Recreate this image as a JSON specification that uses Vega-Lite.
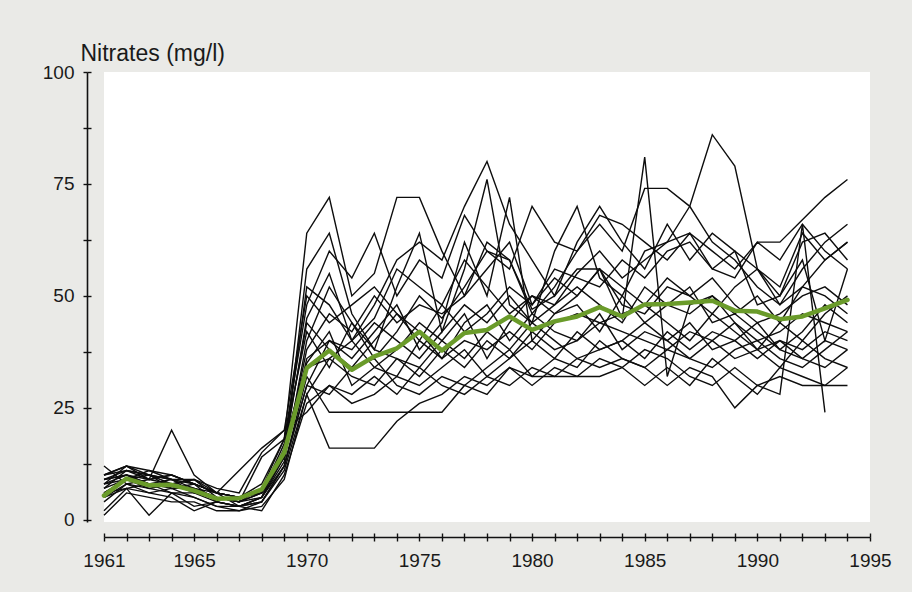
{
"$schema": "https://vega.github.io/schema/vega-lite/v6.json",
"width": 766, "height": 450,
"autosize": {"type": "none"},
"padding": {"left": 104, "top": 72, "right": 42, "bottom": 70},
"background": "#eaeae7",
"config": {"view": {"fill": "white", "stroke": null}, "font": "Liberation Sans"},
"datasets": {
"series": [
{"s":1,"x":1961,"v":10},{"s":1,"x":1962,"v":12},{"s":1,"x":1963,"v":9},{"s":1,"x":1964,"v":10},{"s":1,"x":1965,"v":8},{"s":1,"x":1966,"v":6},{"s":1,"x":1967,"v":5},{"s":1,"x":1968,"v":7},{"s":1,"x":1969,"v":18},{"s":1,"x":1970,"v":64},{"s":1,"x":1971,"v":72},{"s":1,"x":1972,"v":50},{"s":1,"x":1973,"v":55},{"s":1,"x":1974,"v":72},{"s":1,"x":1975,"v":72},{"s":1,"x":1976,"v":60},{"s":1,"x":1977,"v":50},{"s":1,"x":1978,"v":62},{"s":1,"x":1979,"v":58},{"s":1,"x":1980,"v":46},{"s":1,"x":1981,"v":52},{"s":1,"x":1982,"v":60},{"s":1,"x":1983,"v":66},{"s":1,"x":1984,"v":60},{"s":1,"x":1985,"v":74},{"s":1,"x":1986,"v":74},{"s":1,"x":1987,"v":70},{"s":1,"x":1988,"v":62},{"s":1,"x":1989,"v":58},{"s":1,"x":1990,"v":52},{"s":1,"x":1991,"v":48},{"s":1,"x":1992,"v":56},{"s":1,"x":1993,"v":62},{"s":1,"x":1994,"v":66},
{"s":2,"x":1961,"v":9},{"s":2,"x":1962,"v":10},{"s":2,"x":1963,"v":8},{"s":2,"x":1964,"v":9},{"s":2,"x":1965,"v":7},{"s":2,"x":1966,"v":5},{"s":2,"x":1967,"v":4},{"s":2,"x":1968,"v":6},{"s":2,"x":1969,"v":15},{"s":2,"x":1970,"v":45},{"s":2,"x":1971,"v":55},{"s":2,"x":1972,"v":40},{"s":2,"x":1973,"v":48},{"s":2,"x":1974,"v":58},{"s":2,"x":1975,"v":62},{"s":2,"x":1976,"v":58},{"s":2,"x":1977,"v":70},{"s":2,"x":1978,"v":80},{"s":2,"x":1979,"v":66},{"s":2,"x":1980,"v":58},{"s":2,"x":1981,"v":50},{"s":2,"x":1982,"v":62},{"s":2,"x":1983,"v":70},{"s":2,"x":1984,"v":62},{"s":2,"x":1985,"v":56},{"s":2,"x":1986,"v":66},{"s":2,"x":1987,"v":58},{"s":2,"x":1988,"v":64},{"s":2,"x":1989,"v":60},{"s":2,"x":1990,"v":56},{"s":2,"x":1991,"v":52},{"s":2,"x":1992,"v":64},{"s":2,"x":1993,"v":58},{"s":2,"x":1994,"v":62},
{"s":3,"x":1961,"v":7},{"s":3,"x":1962,"v":11},{"s":3,"x":1963,"v":10},{"s":3,"x":1964,"v":8},{"s":3,"x":1965,"v":9},{"s":3,"x":1966,"v":6},{"s":3,"x":1967,"v":3},{"s":3,"x":1968,"v":5},{"s":3,"x":1969,"v":14},{"s":3,"x":1970,"v":56},{"s":3,"x":1971,"v":64},{"s":3,"x":1972,"v":46},{"s":3,"x":1973,"v":38},{"s":3,"x":1974,"v":52},{"s":3,"x":1975,"v":64},{"s":3,"x":1976,"v":42},{"s":3,"x":1977,"v":56},{"s":3,"x":1978,"v":76},{"s":3,"x":1979,"v":48},{"s":3,"x":1980,"v":44},{"s":3,"x":1981,"v":60},{"s":3,"x":1982,"v":70},{"s":3,"x":1983,"v":54},{"s":3,"x":1984,"v":50},{"s":3,"x":1985,"v":60},{"s":3,"x":1986,"v":62},{"s":3,"x":1987,"v":64},{"s":3,"x":1988,"v":56},{"s":3,"x":1989,"v":60},{"s":3,"x":1990,"v":48},{"s":3,"x":1991,"v":50},{"s":3,"x":1992,"v":58},{"s":3,"x":1993,"v":40},{"s":3,"x":1994,"v":56},
{"s":4,"x":1961,"v":6},{"s":4,"x":1962,"v":9},{"s":4,"x":1963,"v":10},{"s":4,"x":1964,"v":7},{"s":4,"x":1965,"v":8},{"s":4,"x":1966,"v":4},{"s":4,"x":1967,"v":3},{"s":4,"x":1968,"v":5},{"s":4,"x":1969,"v":13},{"s":4,"x":1970,"v":40},{"s":4,"x":1971,"v":52},{"s":4,"x":1972,"v":44},{"s":4,"x":1973,"v":36},{"s":4,"x":1974,"v":42},{"s":4,"x":1975,"v":50},{"s":4,"x":1976,"v":45},{"s":4,"x":1977,"v":52},{"s":4,"x":1978,"v":60},{"s":4,"x":1979,"v":58},{"s":4,"x":1980,"v":47},{"s":4,"x":1981,"v":50},{"s":4,"x":1982,"v":56},{"s":4,"x":1983,"v":56},{"s":4,"x":1984,"v":45},{"s":4,"x":1985,"v":81},{"s":4,"x":1986,"v":32},{"s":4,"x":1987,"v":48},{"s":4,"x":1988,"v":50},{"s":4,"x":1989,"v":46},{"s":4,"x":1990,"v":50},{"s":4,"x":1991,"v":44},{"s":4,"x":1992,"v":52},{"s":4,"x":1993,"v":58},{"s":4,"x":1994,"v":62},
{"s":5,"x":1961,"v":8},{"s":5,"x":1962,"v":12},{"s":5,"x":1963,"v":10},{"s":5,"x":1964,"v":9},{"s":5,"x":1965,"v":6},{"s":5,"x":1966,"v":5},{"s":5,"x":1967,"v":4},{"s":5,"x":1968,"v":7},{"s":5,"x":1969,"v":15},{"s":5,"x":1970,"v":52},{"s":5,"x":1971,"v":48},{"s":5,"x":1972,"v":40},{"s":5,"x":1973,"v":45},{"s":5,"x":1974,"v":56},{"s":5,"x":1975,"v":52},{"s":5,"x":1976,"v":48},{"s":5,"x":1977,"v":58},{"s":5,"x":1978,"v":52},{"s":5,"x":1979,"v":46},{"s":5,"x":1980,"v":50},{"s":5,"x":1981,"v":48},{"s":5,"x":1982,"v":55},{"s":5,"x":1983,"v":60},{"s":5,"x":1984,"v":54},{"s":5,"x":1985,"v":58},{"s":5,"x":1986,"v":62},{"s":5,"x":1987,"v":70},{"s":5,"x":1988,"v":86},{"s":5,"x":1989,"v":79},{"s":5,"x":1990,"v":56},{"s":5,"x":1991,"v":50},{"s":5,"x":1992,"v":62},{"s":5,"x":1993,"v":64},{"s":5,"x":1994,"v":58},
{"s":6,"x":1961,"v":10},{"s":6,"x":1962,"v":11},{"s":6,"x":1963,"v":9},{"s":6,"x":1964,"v":10},{"s":6,"x":1965,"v":8},{"s":6,"x":1966,"v":6},{"s":6,"x":1967,"v":5},{"s":6,"x":1968,"v":6},{"s":6,"x":1969,"v":14},{"s":6,"x":1970,"v":38},{"s":6,"x":1971,"v":46},{"s":6,"x":1972,"v":42},{"s":6,"x":1973,"v":50},{"s":6,"x":1974,"v":44},{"s":6,"x":1975,"v":48},{"s":6,"x":1976,"v":46},{"s":6,"x":1977,"v":50},{"s":6,"x":1978,"v":56},{"s":6,"x":1979,"v":62},{"s":6,"x":1980,"v":48},{"s":6,"x":1981,"v":56},{"s":6,"x":1982,"v":54},{"s":6,"x":1983,"v":52},{"s":6,"x":1984,"v":58},{"s":6,"x":1985,"v":54},{"s":6,"x":1986,"v":60},{"s":6,"x":1987,"v":62},{"s":6,"x":1988,"v":56},{"s":6,"x":1989,"v":54},{"s":6,"x":1990,"v":62},{"s":6,"x":1991,"v":62},{"s":6,"x":1992,"v":67},{"s":6,"x":1993,"v":72},{"s":6,"x":1994,"v":76},
{"s":7,"x":1961,"v":5},{"s":7,"x":1962,"v":8},{"s":7,"x":1963,"v":7},{"s":7,"x":1964,"v":6},{"s":7,"x":1965,"v":6},{"s":7,"x":1966,"v":4},{"s":7,"x":1967,"v":3},{"s":7,"x":1968,"v":4},{"s":7,"x":1969,"v":12},{"s":7,"x":1970,"v":30},{"s":7,"x":1971,"v":40},{"s":7,"x":1972,"v":36},{"s":7,"x":1973,"v":42},{"s":7,"x":1974,"v":48},{"s":7,"x":1975,"v":38},{"s":7,"x":1976,"v":44},{"s":7,"x":1977,"v":62},{"s":7,"x":1978,"v":50},{"s":7,"x":1979,"v":72},{"s":7,"x":1980,"v":40},{"s":7,"x":1981,"v":46},{"s":7,"x":1982,"v":50},{"s":7,"x":1983,"v":56},{"s":7,"x":1984,"v":48},{"s":7,"x":1985,"v":46},{"s":7,"x":1986,"v":52},{"s":7,"x":1987,"v":50},{"s":7,"x":1988,"v":54},{"s":7,"x":1989,"v":48},{"s":7,"x":1990,"v":44},{"s":7,"x":1991,"v":46},{"s":7,"x":1992,"v":50},{"s":7,"x":1993,"v":52},{"s":7,"x":1994,"v":48},
{"s":8,"x":1961,"v":9},{"s":8,"x":1962,"v":10},{"s":8,"x":1963,"v":8},{"s":8,"x":1964,"v":7},{"s":8,"x":1965,"v":7},{"s":8,"x":1966,"v":5},{"s":8,"x":1967,"v":4},{"s":8,"x":1968,"v":5},{"s":8,"x":1969,"v":16},{"s":8,"x":1970,"v":44},{"s":8,"x":1971,"v":38},{"s":8,"x":1972,"v":34},{"s":8,"x":1973,"v":40},{"s":8,"x":1974,"v":46},{"s":8,"x":1975,"v":42},{"s":8,"x":1976,"v":36},{"s":8,"x":1977,"v":44},{"s":8,"x":1978,"v":48},{"s":8,"x":1979,"v":40},{"s":8,"x":1980,"v":46},{"s":8,"x":1981,"v":42},{"s":8,"x":1982,"v":40},{"s":8,"x":1983,"v":44},{"s":8,"x":1984,"v":46},{"s":8,"x":1985,"v":48},{"s":8,"x":1986,"v":44},{"s":8,"x":1987,"v":40},{"s":8,"x":1988,"v":46},{"s":8,"x":1989,"v":42},{"s":8,"x":1990,"v":38},{"s":8,"x":1991,"v":44},{"s":8,"x":1992,"v":40},{"s":8,"x":1993,"v":46},{"s":8,"x":1994,"v":50},
{"s":9,"x":1961,"v":7},{"s":9,"x":1962,"v":9},{"s":9,"x":1963,"v":11},{"s":9,"x":1964,"v":10},{"s":9,"x":1965,"v":8},{"s":9,"x":1966,"v":6},{"s":9,"x":1967,"v":5},{"s":9,"x":1968,"v":6},{"s":9,"x":1969,"v":17},{"s":9,"x":1970,"v":35},{"s":9,"x":1971,"v":42},{"s":9,"x":1972,"v":30},{"s":9,"x":1973,"v":34},{"s":9,"x":1974,"v":38},{"s":9,"x":1975,"v":44},{"s":9,"x":1976,"v":40},{"s":9,"x":1977,"v":46},{"s":9,"x":1978,"v":36},{"s":9,"x":1979,"v":44},{"s":9,"x":1980,"v":50},{"s":9,"x":1981,"v":46},{"s":9,"x":1982,"v":48},{"s":9,"x":1983,"v":42},{"s":9,"x":1984,"v":50},{"s":9,"x":1985,"v":44},{"s":9,"x":1986,"v":48},{"s":9,"x":1987,"v":52},{"s":9,"x":1988,"v":44},{"s":9,"x":1989,"v":46},{"s":9,"x":1990,"v":42},{"s":9,"x":1991,"v":38},{"s":9,"x":1992,"v":42},{"s":9,"x":1993,"v":48},{"s":9,"x":1994,"v":44},
{"s":10,"x":1961,"v":4},{"s":10,"x":1962,"v":8},{"s":10,"x":1963,"v":6},{"s":10,"x":1964,"v":7},{"s":10,"x":1965,"v":5},{"s":10,"x":1966,"v":3},{"s":10,"x":1967,"v":2},{"s":10,"x":1968,"v":4},{"s":10,"x":1969,"v":11},{"s":10,"x":1970,"v":28},{"s":10,"x":1971,"v":36},{"s":10,"x":1972,"v":32},{"s":10,"x":1973,"v":30},{"s":10,"x":1974,"v":36},{"s":10,"x":1975,"v":32},{"s":10,"x":1976,"v":38},{"s":10,"x":1977,"v":34},{"s":10,"x":1978,"v":40},{"s":10,"x":1979,"v":36},{"s":10,"x":1980,"v":42},{"s":10,"x":1981,"v":38},{"s":10,"x":1982,"v":40},{"s":10,"x":1983,"v":46},{"s":10,"x":1984,"v":38},{"s":10,"x":1985,"v":42},{"s":10,"x":1986,"v":40},{"s":10,"x":1987,"v":44},{"s":10,"x":1988,"v":38},{"s":10,"x":1989,"v":40},{"s":10,"x":1990,"v":36},{"s":10,"x":1991,"v":40},{"s":10,"x":1992,"v":38},{"s":10,"x":1993,"v":42},{"s":10,"x":1994,"v":40},
{"s":11,"x":1961,"v":1},{"s":11,"x":1962,"v":6},{"s":11,"x":1963,"v":5},{"s":11,"x":1964,"v":4},{"s":11,"x":1965,"v":4},{"s":11,"x":1966,"v":2},{"s":11,"x":1967,"v":2},{"s":11,"x":1968,"v":3},{"s":11,"x":1969,"v":9},{"s":11,"x":1970,"v":28},{"s":11,"x":1971,"v":16},{"s":11,"x":1972,"v":16},{"s":11,"x":1973,"v":16},{"s":11,"x":1974,"v":22},{"s":11,"x":1975,"v":26},{"s":11,"x":1976,"v":28},{"s":11,"x":1977,"v":32},{"s":11,"x":1978,"v":30},{"s":11,"x":1979,"v":34},{"s":11,"x":1980,"v":32},{"s":11,"x":1981,"v":36},{"s":11,"x":1982,"v":34},{"s":11,"x":1983,"v":40},{"s":11,"x":1984,"v":36},{"s":11,"x":1985,"v":34},{"s":11,"x":1986,"v":38},{"s":11,"x":1987,"v":36},{"s":11,"x":1988,"v":34},{"s":11,"x":1989,"v":38},{"s":11,"x":1990,"v":40},{"s":11,"x":1991,"v":36},{"s":11,"x":1992,"v":34},{"s":11,"x":1993,"v":38},{"s":11,"x":1994,"v":42},
{"s":12,"x":1961,"v":6},{"s":12,"x":1962,"v":7},{"s":12,"x":1963,"v":8},{"s":12,"x":1964,"v":6},{"s":12,"x":1965,"v":5},{"s":12,"x":1966,"v":3},{"s":12,"x":1967,"v":3},{"s":12,"x":1968,"v":4},{"s":12,"x":1969,"v":12},{"s":12,"x":1970,"v":32},{"s":12,"x":1971,"v":24},{"s":12,"x":1972,"v":24},{"s":12,"x":1973,"v":24},{"s":12,"x":1974,"v":24},{"s":12,"x":1975,"v":24},{"s":12,"x":1976,"v":24},{"s":12,"x":1977,"v":30},{"s":12,"x":1978,"v":28},{"s":12,"x":1979,"v":34},{"s":12,"x":1980,"v":30},{"s":12,"x":1981,"v":34},{"s":12,"x":1982,"v":32},{"s":12,"x":1983,"v":36},{"s":12,"x":1984,"v":34},{"s":12,"x":1985,"v":38},{"s":12,"x":1986,"v":36},{"s":12,"x":1987,"v":32},{"s":12,"x":1988,"v":30},{"s":12,"x":1989,"v":34},{"s":12,"x":1990,"v":30},{"s":12,"x":1991,"v":32},{"s":12,"x":1992,"v":30},{"s":12,"x":1993,"v":30},{"s":12,"x":1994,"v":30},
{"s":13,"x":1961,"v":2},{"s":13,"x":1962,"v":7},{"s":13,"x":1963,"v":1},{"s":13,"x":1964,"v":6},{"s":13,"x":1965,"v":3},{"s":13,"x":1966,"v":4},{"s":13,"x":1967,"v":3},{"s":13,"x":1968,"v":5},{"s":13,"x":1969,"v":12},{"s":13,"x":1970,"v":30},{"s":13,"x":1971,"v":28},{"s":13,"x":1972,"v":34},{"s":13,"x":1973,"v":36},{"s":13,"x":1974,"v":30},{"s":13,"x":1975,"v":28},{"s":13,"x":1976,"v":32},{"s":13,"x":1977,"v":30},{"s":13,"x":1978,"v":34},{"s":13,"x":1979,"v":38},{"s":13,"x":1980,"v":32},{"s":13,"x":1981,"v":32},{"s":13,"x":1982,"v":32},{"s":13,"x":1983,"v":32},{"s":13,"x":1984,"v":34},{"s":13,"x":1985,"v":30},{"s":13,"x":1986,"v":34},{"s":13,"x":1987,"v":30},{"s":13,"x":1988,"v":36},{"s":13,"x":1989,"v":32},{"s":13,"x":1990,"v":28},{"s":13,"x":1991,"v":34},{"s":13,"x":1992,"v":32},{"s":13,"x":1993,"v":30},{"s":13,"x":1994,"v":34},
{"s":14,"x":1961,"v":8},{"s":14,"x":1962,"v":10},{"s":14,"x":1963,"v":9},{"s":14,"x":1964,"v":20},{"s":14,"x":1965,"v":10},{"s":14,"x":1966,"v":6},{"s":14,"x":1967,"v":5},{"s":14,"x":1968,"v":6},{"s":14,"x":1969,"v":14},{"s":14,"x":1970,"v":36},{"s":14,"x":1971,"v":40},{"s":14,"x":1972,"v":38},{"s":14,"x":1973,"v":44},{"s":14,"x":1974,"v":40},{"s":14,"x":1975,"v":36},{"s":14,"x":1976,"v":42},{"s":14,"x":1977,"v":48},{"s":14,"x":1978,"v":44},{"s":14,"x":1979,"v":50},{"s":14,"x":1980,"v":44},{"s":14,"x":1981,"v":48},{"s":14,"x":1982,"v":52},{"s":14,"x":1983,"v":48},{"s":14,"x":1984,"v":44},{"s":14,"x":1985,"v":52},{"s":14,"x":1986,"v":48},{"s":14,"x":1987,"v":46},{"s":14,"x":1988,"v":50},{"s":14,"x":1989,"v":44},{"s":14,"x":1990,"v":40},{"s":14,"x":1991,"v":42},{"s":14,"x":1992,"v":46},{"s":14,"x":1993,"v":44},{"s":14,"x":1994,"v":42},
{"s":15,"x":1961,"v":9},{"s":15,"x":1962,"v":11},{"s":15,"x":1963,"v":10},{"s":15,"x":1964,"v":9},{"s":15,"x":1965,"v":8},{"s":15,"x":1966,"v":6},{"s":15,"x":1967,"v":5},{"s":15,"x":1968,"v":8},{"s":15,"x":1969,"v":18},{"s":15,"x":1970,"v":48},{"s":15,"x":1971,"v":60},{"s":15,"x":1972,"v":54},{"s":15,"x":1973,"v":64},{"s":15,"x":1974,"v":50},{"s":15,"x":1975,"v":58},{"s":15,"x":1976,"v":54},{"s":15,"x":1977,"v":68},{"s":15,"x":1978,"v":60},{"s":15,"x":1979,"v":56},{"s":15,"x":1980,"v":70},{"s":15,"x":1981,"v":62},{"s":15,"x":1982,"v":60},{"s":15,"x":1983,"v":68},{"s":15,"x":1984,"v":66},{"s":15,"x":1985,"v":62},{"s":15,"x":1986,"v":58},{"s":15,"x":1987,"v":64},{"s":15,"x":1988,"v":60},{"s":15,"x":1989,"v":56},{"s":15,"x":1990,"v":62},{"s":15,"x":1991,"v":58},{"s":15,"x":1992,"v":66},{"s":15,"x":1993,"v":60},{"s":15,"x":1994,"v":56},
{"s":16,"x":1961,"v":6},{"s":16,"x":1962,"v":9},{"s":16,"x":1963,"v":8},{"s":16,"x":1964,"v":8},{"s":16,"x":1965,"v":9},{"s":16,"x":1966,"v":5},{"s":16,"x":1967,"v":4},{"s":16,"x":1968,"v":6},{"s":16,"x":1969,"v":14},{"s":16,"x":1970,"v":34},{"s":16,"x":1971,"v":36},{"s":16,"x":1972,"v":40},{"s":16,"x":1973,"v":34},{"s":16,"x":1974,"v":32},{"s":16,"x":1975,"v":40},{"s":16,"x":1976,"v":36},{"s":16,"x":1977,"v":40},{"s":16,"x":1978,"v":38},{"s":16,"x":1979,"v":42},{"s":16,"x":1980,"v":38},{"s":16,"x":1981,"v":44},{"s":16,"x":1982,"v":46},{"s":16,"x":1983,"v":44},{"s":16,"x":1984,"v":42},{"s":16,"x":1985,"v":40},{"s":16,"x":1986,"v":38},{"s":16,"x":1987,"v":42},{"s":16,"x":1988,"v":40},{"s":16,"x":1989,"v":36},{"s":16,"x":1990,"v":38},{"s":16,"x":1991,"v":40},{"s":16,"x":1992,"v":36},{"s":16,"x":1993,"v":40},{"s":16,"x":1994,"v":38},
{"s":17,"x":1961,"v":5},{"s":17,"x":1962,"v":7},{"s":17,"x":1963,"v":6},{"s":17,"x":1964,"v":5},{"s":17,"x":1965,"v":2},{"s":17,"x":1966,"v":4},{"s":17,"x":1967,"v":3},{"s":17,"x":1968,"v":2},{"s":17,"x":1969,"v":10},{"s":17,"x":1970,"v":26},{"s":17,"x":1971,"v":30},{"s":17,"x":1972,"v":28},{"s":17,"x":1973,"v":32},{"s":17,"x":1974,"v":28},{"s":17,"x":1975,"v":34},{"s":17,"x":1976,"v":30},{"s":17,"x":1977,"v":28},{"s":17,"x":1978,"v":32},{"s":17,"x":1979,"v":30},{"s":17,"x":1980,"v":34},{"s":17,"x":1981,"v":32},{"s":17,"x":1982,"v":36},{"s":17,"x":1983,"v":34},{"s":17,"x":1984,"v":36},{"s":17,"x":1985,"v":34},{"s":17,"x":1986,"v":30},{"s":17,"x":1987,"v":34},{"s":17,"x":1988,"v":32},{"s":17,"x":1989,"v":25},{"s":17,"x":1990,"v":30},{"s":17,"x":1991,"v":28},{"s":17,"x":1992,"v":66},{"s":17,"x":1993,"v":24},
{"s":18,"x":1961,"v":10},{"s":18,"x":1962,"v":12},{"s":18,"x":1963,"v":11},{"s":18,"x":1964,"v":9},{"s":18,"x":1965,"v":9},{"s":18,"x":1966,"v":7},{"s":18,"x":1967,"v":6},{"s":18,"x":1968,"v":15},{"s":18,"x":1969,"v":20},{"s":18,"x":1970,"v":50},{"s":18,"x":1971,"v":44},{"s":18,"x":1972,"v":48},{"s":18,"x":1973,"v":52},{"s":18,"x":1974,"v":46},{"s":18,"x":1975,"v":40},{"s":18,"x":1976,"v":48},{"s":18,"x":1977,"v":42},{"s":18,"x":1978,"v":46},{"s":18,"x":1979,"v":52},{"s":18,"x":1980,"v":48},{"s":18,"x":1981,"v":54},{"s":18,"x":1982,"v":50},{"s":18,"x":1983,"v":56},{"s":18,"x":1984,"v":52},{"s":18,"x":1985,"v":48},{"s":18,"x":1986,"v":54},{"s":18,"x":1987,"v":50},{"s":18,"x":1988,"v":46},{"s":18,"x":1989,"v":52},{"s":18,"x":1990,"v":56},{"s":18,"x":1991,"v":48},{"s":18,"x":1992,"v":52},{"s":18,"x":1993,"v":50},{"s":18,"x":1994,"v":46},
{"s":19,"x":1961,"v":8},{"s":19,"x":1962,"v":9},{"s":19,"x":1963,"v":7},{"s":19,"x":1964,"v":8},{"s":19,"x":1965,"v":6},{"s":19,"x":1966,"v":5},{"s":19,"x":1967,"v":4},{"s":19,"x":1968,"v":14},{"s":19,"x":1969,"v":18},{"s":19,"x":1970,"v":42},{"s":19,"x":1971,"v":34},{"s":19,"x":1972,"v":44},{"s":19,"x":1973,"v":38},{"s":19,"x":1974,"v":36},{"s":19,"x":1975,"v":34},{"s":19,"x":1976,"v":40},{"s":19,"x":1977,"v":36},{"s":19,"x":1978,"v":42},{"s":19,"x":1979,"v":38},{"s":19,"x":1980,"v":44},{"s":19,"x":1981,"v":40},{"s":19,"x":1982,"v":36},{"s":19,"x":1983,"v":38},{"s":19,"x":1984,"v":40},{"s":19,"x":1985,"v":36},{"s":19,"x":1986,"v":42},{"s":19,"x":1987,"v":38},{"s":19,"x":1988,"v":42},{"s":19,"x":1989,"v":40},{"s":19,"x":1990,"v":44},{"s":19,"x":1991,"v":38},{"s":19,"x":1992,"v":36},{"s":19,"x":1993,"v":34},{"s":19,"x":1994,"v":38},
{"s":20,"x":1961,"v":12},{"s":20,"x":1962,"v":8},{"s":20,"x":1963,"v":9},{"s":20,"x":1964,"v":8},{"s":20,"x":1965,"v":7},{"s":20,"x":1966,"v":6},{"s":20,"x":1967,"v":11},{"s":20,"x":1968,"v":16},{"s":20,"x":1969,"v":20},{"s":20,"x":1970,"v":24},{"s":20,"x":1971,"v":30},{"s":20,"x":1972,"v":26},{"s":20,"x":1973,"v":28},{"s":20,"x":1974,"v":32},{"s":20,"x":1975,"v":30},{"s":20,"x":1976,"v":34},{"s":20,"x":1977,"v":38},{"s":20,"x":1978,"v":32},{"s":20,"x":1979,"v":36},{"s":20,"x":1980,"v":40},{"s":20,"x":1981,"v":36},{"s":20,"x":1982,"v":42},{"s":20,"x":1983,"v":38},{"s":20,"x":1984,"v":40},{"s":20,"x":1985,"v":44},{"s":20,"x":1986,"v":40},{"s":20,"x":1987,"v":36},{"s":20,"x":1988,"v":40},{"s":20,"x":1989,"v":44},{"s":20,"x":1990,"v":38},{"s":20,"x":1991,"v":34},{"s":20,"x":1992,"v":40},{"s":20,"x":1993,"v":36},{"s":20,"x":1994,"v":34}
],
"mean": [
{"x":1961,"v":5.4},{"x":1962,"v":9.2},{"x":1963,"v":7.7},{"x":1964,"v":7.8},{"x":1965,"v":6.5},{"x":1966,"v":4.7},{"x":1967,"v":4.8},{"x":1968,"v":6.8},{"x":1969,"v":15},{"x":1970,"v":33.9},{"x":1971,"v":37.8},{"x":1972,"v":33.5},{"x":1973,"v":36.5},{"x":1974,"v":38.3},{"x":1975,"v":42},{"x":1976,"v":37.8},{"x":1977,"v":41.7},{"x":1978,"v":42.4},{"x":1979,"v":45.4},{"x":1980,"v":42.4},{"x":1981,"v":44.3},{"x":1982,"v":45.4},{"x":1983,"v":47.5},{"x":1984,"v":45.4},{"x":1985,"v":48.1},{"x":1986,"v":48.2},{"x":1987,"v":48.5},{"x":1988,"v":48.9},{"x":1989,"v":46.7},{"x":1990,"v":46.5},{"x":1991,"v":44.8},{"x":1992,"v":45.4},{"x":1993,"v":47.2},{"x":1994,"v":49.1}
]
},
"layer": [
{
"data": {"name": "series"},
"mark": {"type": "line", "stroke": "#0d0d0d", "strokeWidth": 1.4, "strokeJoin": "miter"},
"encoding": {
"x": {"field": "x", "type": "quantitative", "scale": {"domain": [1961, 1995], "nice": false, "zero": false},
"axis": {"orient": "bottom", "offset": 15, "values": [1961,1962,1963,1964,1965,1966,1967,1968,1969,1970,1971,1972,1973,1974,1975,1976,1977,1978,1979,1980,1981,1982,1983,1984,1985,1986,1987,1988,1989,1990,1991,1992,1993,1994,1995],
"format": "d", "labelExpr": "(datum.value == 1961 || datum.value % 5 == 0) ? datum.label : ''",
"grid": false, "title": null, "domainColor": "#111111", "domainWidth": 1.6, "tickColor": "#111111", "tickWidth": 1.4, "tickSize": 4,
"labelFontSize": 19, "labelColor": "#1a1a1a", "labelPadding": 10, "labelFont": "Liberation Sans", "labelFlush": false, "labelOverlap": false}},
"y": {"field": "v", "type": "quantitative", "scale": {"domain": [-0.5, 100], "nice": false, "zero": false},
"axis": {"orient": "left", "offset": 17, "values": [0,12.5,25,37.5,50,62.5,75,87.5,100],
"labelExpr": "(datum.value % 25 == 0) ? datum.label : ''",
"grid": false, "title": "Nitrates (mg/l)", "titleAngle": 0, "titleAlign": "left", "titleBaseline": "alphabetic", "titleX": -7, "titleY": -12,
"titleFontSize": 23, "titleFontWeight": "normal", "titleFont": "Liberation Sans", "titleColor": "#1a1a1a",
"domainColor": "#111111", "domainWidth": 1.6, "tickColor": "#111111", "tickWidth": 1.4, "tickSize": 4,
"labelFontSize": 19, "labelColor": "#1a1a1a", "labelPadding": 9, "labelFont": "Liberation Sans", "labelFlush": false, "labelOverlap": false}},
"detail": {"field": "s", "type": "nominal"}
}
},
{
"data": {"name": "mean"},
"mark": {"type": "line", "stroke": "#6a9b2a", "strokeWidth": 4.5, "strokeJoin": "round", "strokeCap": "round"},
"encoding": {
"x": {"field": "x", "type": "quantitative",
"axis": {"orient": "bottom", "offset": 11, "values": [1961,1962,1963,1964,1965,1966,1967,1968,1969,1970,1971,1972,1973,1974,1975,1976,1977,1978,1979,1980,1981,1982,1983,1984,1985,1986,1987,1988,1989,1990,1991,1992,1993,1994,1995],
"labels": false, "domain": false, "grid": false, "title": null, "tickColor": "#111111", "tickWidth": 1.4, "tickSize": 4}},
"y": {"field": "v", "type": "quantitative",
"axis": {"orient": "left", "offset": 13, "values": [0,12.5,25,37.5,50,62.5,75,87.5,100],
"labels": false, "domain": false, "grid": false, "title": null, "tickColor": "#111111", "tickWidth": 1.4, "tickSize": 4}}
}
}
],
"resolve": {"axis": {"x": "independent", "y": "independent"}}
}
